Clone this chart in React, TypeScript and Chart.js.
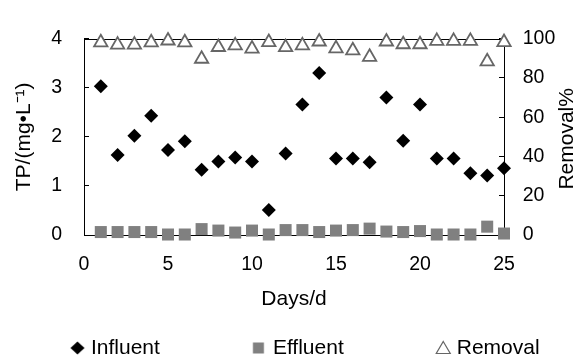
import React, { useEffect, useRef } from 'react';
import { Chart, registerables } from 'chart.js';

Chart.register(...registerables);

const days = [1, 2, 3, 4, 5, 6, 7, 8, 9, 10, 11, 12, 13, 14, 15, 16, 17, 18, 19, 20, 21, 22, 23, 24, 25];
const influent = [3.03, 1.63, 2.02, 2.43, 1.73, 1.91, 1.33, 1.5, 1.58, 1.5, 0.51, 1.66, 2.66, 3.3, 1.56, 1.56, 1.48, 2.8, 1.92, 2.66, 1.56, 1.56, 1.26, 1.21, 1.36];
const effluent = [0.06, 0.06, 0.06, 0.06, 0.01, 0.01, 0.12, 0.09, 0.05, 0.09, 0.01, 0.1, 0.1, 0.06, 0.09, 0.1, 0.13, 0.07, 0.06, 0.08, 0.01, 0.01, 0.01, 0.17, 0.03];
const removal = [98.1, 96.9, 96.9, 98.1, 99.0, 98.1, 89.7, 95.7, 96.5, 94.9, 98.2, 95.6, 96.5, 98.5, 95.0, 94.0, 90.7, 98.5, 97.1, 97.1, 98.8, 98.8, 98.8, 88.4, 98.2];

const seriesNames = ['Influent', 'Effluent', 'Removal'];
const xTitle = 'Days/d';
const leftTitle = 'TP/(mg•L⁻¹)';
const rightTitle = 'Removal%';

const FONT = '"Liberation Sans", Arial, sans-serif';

function legendMarker(kind: string): HTMLCanvasElement {
  const c = document.createElement('canvas');
  c.width = 96;
  c.height = 22;
  const g = c.getContext('2d') as CanvasRenderingContext2D;
  const cx = 48 + (kind === 'square' ? 37.25 : 38.25);
  const cy = 11;
  if (kind === 'diamond') {
    g.fillStyle = '#000';
    g.beginPath();
    g.moveTo(cx, cy - 6.5);
    g.lineTo(cx + 7, cy);
    g.lineTo(cx, cy + 6.5);
    g.lineTo(cx - 7, cy);
    g.closePath();
    g.fill();
  } else if (kind === 'square') {
    g.fillStyle = '#808080';
    g.fillRect(cx - 5.5, cy - 5.5, 11, 11);
  } else {
    g.strokeStyle = '#666';
    g.fillStyle = '#fff';
    g.lineWidth = 1.2;
    g.beginPath();
    g.moveTo(cx, cy - 6.5);
    g.lineTo(cx + 7, cy + 5.5);
    g.lineTo(cx - 7, cy + 5.5);
    g.closePath();
    g.fill();
    g.stroke();
  }
  return c;
}

const framePlugin = {
  id: 'frameAndRightTitle',
  beforeDatasetsDraw(chart: any) {
    const { ctx, chartArea } = chart;
    ctx.save();
    ctx.strokeStyle = '#000';
    ctx.lineWidth = 1;
    ctx.beginPath();
    const y = Math.round(chartArea.top) + 0.5;
    ctx.moveTo(chartArea.left, y);
    ctx.lineTo(chartArea.right, y);
    ctx.stroke();
    ctx.restore();
  },
  afterDraw(chart: any) {
    const { ctx, chartArea } = chart;
    const s = chart.scales.y1;
    ctx.save();
    ctx.translate(s.right - 9.5, (chartArea.top + chartArea.bottom) / 2 + 2);
    ctx.rotate(-Math.PI / 2);
    ctx.font = `21px ${FONT}`;
    ctx.fillStyle = '#000';
    ctx.textAlign = 'center';
    ctx.textBaseline = 'middle';
    ctx.fillText(rightTitle, 0, 0);
    ctx.restore();
  },
};

export default function App() {
  const ref = useRef<HTMLCanvasElement>(null);

  useEffect(() => {
    document.body.style.margin = '0';
    const canvas = ref.current;
    if (!canvas) return;
    const markers = [legendMarker('diamond'), legendMarker('square'), legendMarker('triangle')];

    const chart = new Chart(canvas, {
      type: 'scatter',
      data: {
        datasets: [
          {
            label: seriesNames[0],
            data: days.map((d, i) => ({ x: d, y: influent[i] })),
            yAxisID: 'y',
            pointStyle: 'rectRot',
            pointRadius: 7,
            backgroundColor: '#000',
            borderColor: '#000',
            borderWidth: 0,
            clip: false,
          },
          {
            label: seriesNames[1],
            data: days.map((d, i) => ({ x: d, y: effluent[i] })),
            yAxisID: 'y',
            pointStyle: 'rect',
            pointRadius: 8.5,
            backgroundColor: '#808080',
            borderColor: '#808080',
            borderWidth: 0,
            clip: false,
          },
          {
            label: seriesNames[2],
            data: days.map((d, i) => ({ x: d, y: removal[i] })),
            yAxisID: 'y1',
            pointStyle: 'triangle',
            pointRadius: 7.7,
            backgroundColor: '#fff',
            borderColor: '#666',
            borderWidth: 1.8,
            clip: false,
          },
        ],
      },
      options: {
        responsive: false,
        animation: false,
        events: [],
        layout: { padding: { top: 19, left: -22, right: 0, bottom: -6.5 } },
        font: { family: FONT },
        scales: {
          x: {
            type: 'linear',
            min: 0,
            max: 25,
            ticks: { stepSize: 5, autoSkip: false, color: '#000', padding: 18, font: { family: FONT, size: 19.5 } },
            grid: { drawOnChartArea: false, drawTicks: false, color: '#000' },
            border: { color: '#000', width: 1 },
            title: {
              display: true,
              text: xTitle,
              color: '#000',
              font: { family: FONT, size: 21 },
              padding: { top: 0, bottom: 5.4 },
            },
            afterFit: (s: any) => {
              s.height = 82.5;
            },
          },
          y: {
            type: 'linear',
            position: 'left',
            min: 0,
            max: 4,
            ticks: { stepSize: 1, autoSkip: false, color: '#000', padding: 27, font: { family: FONT, size: 19.5 } },
            grid: { drawOnChartArea: false, drawTicks: true, tickLength: -5, color: '#000' },
            border: { color: '#000', width: 1 },
            title: {
              display: true,
              text: leftTitle,
              color: '#000',
              font: { family: FONT, size: 21 },
              padding: { top: 33.8, bottom: 0 },
            },
            afterFit: (s: any) => {
              s.width = 106;
            },
          },
          y1: {
            type: 'linear',
            position: 'right',
            min: 0,
            max: 100,
            ticks: { stepSize: 20, autoSkip: false, color: '#000', padding: 23.7, font: { family: FONT, size: 19.5 } },
            grid: { drawOnChartArea: false, drawTicks: true, tickLength: -5, color: '#000' },
            border: { color: '#000', width: 1 },
            title: { display: false },
            afterFit: (s: any) => {
              s.width = 73;
            },
          },
        },
        plugins: {
          tooltip: { enabled: false },
          legend: {
            position: 'bottom',
            align: 'start',
            labels: {
              usePointStyle: true,
              pointStyleWidth: 82.5,
              padding: 20,
              color: '#000',
              font: { family: FONT, size: 21 },
              generateLabels: (c: any) => {
                const base = Chart.defaults.plugins.legend.labels.generateLabels(c);
                return base.map((item: any, i: number) => ({ ...item, pointStyle: markers[i] }));
              },
            },
          },
        },
      },
      plugins: [framePlugin],
    } as any);

    return () => chart.destroy();
  }, []);

  return (
    <div style={{ width: 577, height: 362 }}>
      <canvas ref={ref} width={577} height={362} style={{ display: 'block' }} />
    </div>
  );
}
